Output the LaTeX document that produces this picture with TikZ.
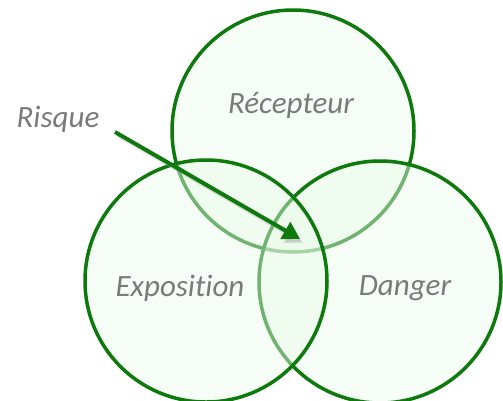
\documentclass[tikz,border=0pt]{standalone}
\usepackage{fontspec}
\setmainfont{Carlito}[Ligatures={NoCommon,NoContextual,NoRare}]
\usetikzlibrary{arrows.meta}

\definecolor{vgreen}{RGB}{14,122,14}
\definecolor{vfill}{RGB}{234,250,234}
\definecolor{vtext}{RGB}{122,122,122}

\begin{document}
\begin{tikzpicture}[x=1pt,y=-1pt,
  % Set Styles
  vset/.style={draw=vgreen, line width=3.5pt, fill=vfill, fill opacity=0.45, draw opacity=1},
  vlabel/.style={text=vtext, font=\fontsize{31}{36}\selectfont\itshape, inner sep=0pt},
  % Arrow Styles
  riskarrow/.style={-{Triangle[length=17pt,width=19pt]}, line width=4pt, draw=vgreen, fill=vgreen},
]
\useasboundingbox (0,0) rectangle (503,400);

% three sets, back to front
\path[vset] (293,131) circle (121);
\path[vset] (380,282) circle (121);
\path[vset] (206,281) circle (121);

\node[vlabel] (recepteur) at (291,105) {Récepteur};
\node[vlabel] (exposition) at (180,288) {Exposit\kern0pt ion};
\node[vlabel] (danger) at (405,288) {Danger};
\node[vlabel] (risque) at (58,119) {Risque};

\coordinate (risk_start) at (115,132);
\coordinate (risk_end) at (300,239);

% soft shadow under the arrow
\draw[-{Triangle[length=17pt,width=19pt]}, line width=3pt, draw=black!40, fill=black!40, opacity=0.3]
  ([shift={(3,4)}]risk_start) -- ([shift={(3,4)}]risk_end);
\draw[riskarrow] (risk_start) -- (risk_end);

\end{tikzpicture}
\end{document}
